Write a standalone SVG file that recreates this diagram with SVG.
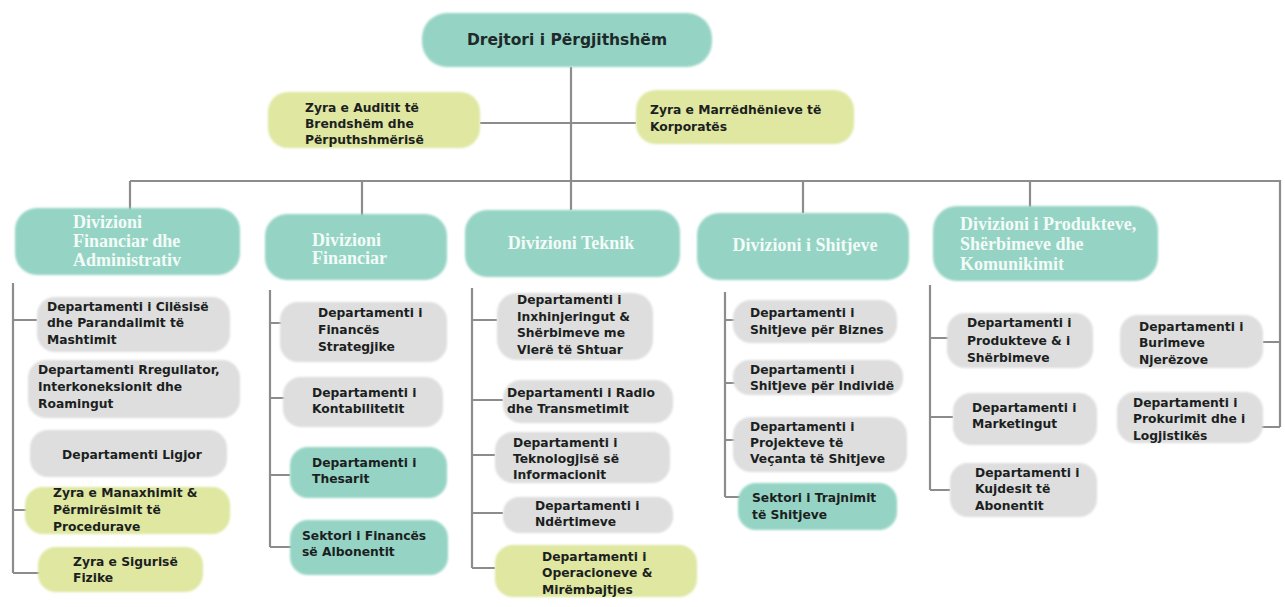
<svg xmlns="http://www.w3.org/2000/svg" width="1285" height="607" viewBox="0 0 1285 607">
<defs>
<filter id="soft" x="-10%" y="-20%" width="120%" height="140%"><feGaussianBlur stdDeviation="1.3"/></filter>
<style>
.teal{fill:#95d4c4;filter:url(#soft)}
.grey{fill:#dedede;filter:url(#soft)}
.yel{fill:#dfe7a0;filter:url(#soft)}
.t{font-family:"DejaVu Sans",Verdana,sans-serif;font-weight:bold;font-size:12.3px;fill:#1c1f1f}
.top{font-family:"DejaVu Sans",Verdana,sans-serif;font-weight:bold;font-size:15.5px;fill:#1e2a2a}
.div{font-family:"Liberation Serif","Times New Roman",serif;font-weight:bold;font-size:18px;fill:#f3fbf8}
.ln{stroke:#8c8c8c;stroke-width:2.2;fill:none}
</style>
</defs>
<rect width="1285" height="607" fill="#ffffff"/>

<g id="connectors" class="ln">
<path d="M571 67V181M480 123H636"/>
<path d="M130 181H1280V427"/>
<path d="M130 181V210M362 181V217M571 181V210M803 181V213M1030 181V207"/>
<path d="M13 283V573M13 320H37M13 510H30M13 573H40"/>
<path d="M270 290V547M270 323H282M270 398H285M270 475H290M270 547H292"/>
<path d="M472 288V568M472 320H497M472 400H503M472 455H495M472 513H503M472 568H495"/>
<path d="M725 292V497M725 320H735M725 383H735M725 440H735M725 497H740"/>
<path d="M930 285V490M930 338H948M930 417H953M930 490H950"/>
<path d="M1280 342H1263M1280 427H1250"/>
</g>

<g id="n-drejtori"><rect class="teal" x="422" y="13" width="290" height="54" rx="25"/><text class="top" x="567" y="45" text-anchor="middle">Drejtori i Përgjithshëm</text></g>

<g id="n-auditit"><rect class="yel" x="268" y="92" width="212" height="56" rx="20"/><text class="t" x="305"><tspan x="305" y="112">Zyra e Auditit të</tspan><tspan x="305" y="128">Brendshëm dhe</tspan><tspan x="305" y="144">Përputhshmërisë</tspan></text></g>

<g id="n-korporates"><rect class="yel" x="636" y="90" width="218" height="54" rx="20"/><text class="t"><tspan x="650" y="114">Zyra e Marrëdhënieve të</tspan><tspan x="650" y="131">Korporatës</tspan></text></g>

<g id="d-finadm"><rect class="teal" x="15" y="208" width="225" height="67" rx="22"/><text class="div"><tspan x="73" y="228">Divizioni</tspan><tspan x="73" y="247">Financiar dhe</tspan><tspan x="73" y="266">Administrativ</tspan></text></g>
<g id="d-fin"><rect class="teal" x="265" y="214" width="182" height="66" rx="22"/><text class="div"><tspan x="312" y="246">Divizioni</tspan><tspan x="312" y="264">Financiar</tspan></text></g>
<g id="d-teknik"><rect class="teal" x="465" y="210" width="215" height="67" rx="22"/><text class="div" x="571" y="249" text-anchor="middle">Divizioni Teknik</text></g>
<g id="d-shitjeve"><rect class="teal" x="697" y="213" width="212" height="67" rx="22"/><text class="div" x="805" y="251" text-anchor="middle">Divizioni i Shitjeve</text></g>
<g id="d-produkteve"><rect class="teal" x="933" y="206" width="225" height="75" rx="24"/><text class="div"><tspan x="960" y="230">Divizioni i Produkteve,</tspan><tspan x="960" y="250">Shërbimeve dhe</tspan><tspan x="960" y="270">Komunikimit</tspan></text></g>

<g id="c1-cilesise"><rect class="grey" x="37" y="297" width="193" height="55" rx="18"/><text class="t"><tspan x="47" y="311">Departamenti i Cilësisë</tspan><tspan x="47" y="327">dhe Parandalimit të</tspan><tspan x="47" y="344">Mashtimit</tspan></text></g>
<g id="c1-rregullator"><rect class="grey" x="28" y="360" width="212" height="58" rx="18"/><text class="t"><tspan x="38" y="374">Departamenti Rregullator,</tspan><tspan x="38" y="391">Interkoneksionit dhe</tspan><tspan x="38" y="408">Roamingut</tspan></text></g>
<g id="c1-ligjor"><rect class="grey" x="30" y="430" width="197" height="47" rx="18"/><text class="t" x="132" y="459" text-anchor="middle">Departamenti Ligjor</text></g>
<g id="c1-manaxhimit"><rect class="yel" x="25" y="487" width="205" height="47" rx="18"/><text class="t"><tspan x="53" y="497">Zyra e Manaxhimit &amp;</tspan><tspan x="53" y="514">Përmirësimit të</tspan><tspan x="53" y="531">Procedurave</tspan></text></g>
<g id="c1-sigurise"><rect class="yel" x="38" y="547" width="165" height="45" rx="18"/><text class="t"><tspan x="73" y="566">Zyra e Sigurisë</tspan><tspan x="73" y="582">Fizike</tspan></text></g>

<g id="c2-strategjike"><rect class="grey" x="280" y="302" width="167" height="60" rx="18"/><text class="t"><tspan x="318" y="317">Departamenti i</tspan><tspan x="318" y="334">Financës</tspan><tspan x="318" y="351">Strategjike</tspan></text></g>
<g id="c2-kontabilitetit"><rect class="grey" x="283" y="377" width="160" height="50" rx="18"/><text class="t"><tspan x="312" y="397">Departamenti i</tspan><tspan x="312" y="413">Kontabilitetit</tspan></text></g>
<g id="c2-thesarit"><rect class="teal" x="290" y="447" width="157" height="51" rx="18"/><text class="t"><tspan x="312" y="467">Departamenti i</tspan><tspan x="312" y="483">Thesarit</tspan></text></g>
<g id="c2-abonentit"><rect class="teal" x="290" y="520" width="158" height="55" rx="18"/><text class="t"><tspan x="302" y="540">Sektori i Financës</tspan><tspan x="302" y="556">së Albonentit</tspan></text></g>

<g id="c3-inxhinjeringut"><rect class="grey" x="497" y="293" width="156" height="67" rx="20"/><text class="t"><tspan x="517" y="304">Departamenti i</tspan><tspan x="517" y="321">Inxhinjeringut &amp;</tspan><tspan x="517" y="337">Shërbimeve me</tspan><tspan x="517" y="354">Vlerë të Shtuar</tspan></text></g>
<g id="c3-radio"><rect class="grey" x="503" y="380" width="170" height="43" rx="18"/><text class="t"><tspan x="507" y="397">Departamenti i Radio</tspan><tspan x="507" y="413">dhe Transmetimit</tspan></text></g>
<g id="c3-teknologjise"><rect class="grey" x="495" y="432" width="175" height="51" rx="18"/><text class="t"><tspan x="513" y="447">Departamenti i</tspan><tspan x="513" y="463">Teknologjisë së</tspan><tspan x="513" y="479">Informacionit</tspan></text></g>
<g id="c3-ndertimeve"><rect class="grey" x="503" y="497" width="170" height="36" rx="16"/><text class="t"><tspan x="535" y="510">Departamenti i</tspan><tspan x="535" y="526">Ndërtimeve</tspan></text></g>
<g id="c3-operacioneve"><rect class="yel" x="495" y="545" width="202" height="52" rx="18"/><text class="t"><tspan x="542" y="561">Departamenti i</tspan><tspan x="542" y="577">Operacioneve &amp;</tspan><tspan x="542" y="594">Mirëmbajtjes</tspan></text></g>

<g id="c4-biznes"><rect class="grey" x="733" y="300" width="164" height="43" rx="18"/><text class="t"><tspan x="750" y="317">Departamenti i</tspan><tspan x="750" y="334">Shitjeve për Biznes</tspan></text></g>
<g id="c4-individe"><rect class="grey" x="733" y="360" width="170" height="35" rx="16"/><text class="t"><tspan x="750" y="374">Departamenti i</tspan><tspan x="750" y="390">Shitjeve për Individë</tspan></text></g>
<g id="c4-projekteve"><rect class="grey" x="733" y="417" width="174" height="55" rx="18"/><text class="t"><tspan x="750" y="431">Departamenti i</tspan><tspan x="750" y="447">Projekteve të</tspan><tspan x="750" y="463">Veçanta të Shitjeve</tspan></text></g>
<g id="c4-trajnimit"><rect class="teal" x="738" y="483" width="159" height="47" rx="18"/><text class="t"><tspan x="752" y="502">Sektori i Trajnimit</tspan><tspan x="752" y="519">të Shitjeve</tspan></text></g>

<g id="c5-produkteve"><rect class="grey" x="947" y="313" width="146" height="55" rx="18"/><text class="t"><tspan x="967" y="327">Departamenti i</tspan><tspan x="967" y="345">Produkteve &amp; i</tspan><tspan x="967" y="362">Shërbimeve</tspan></text></g>
<g id="c5-marketingut"><rect class="grey" x="953" y="393" width="144" height="52" rx="18"/><text class="t"><tspan x="972" y="412">Departamenti i</tspan><tspan x="972" y="428">Marketingut</tspan></text></g>
<g id="c5-kujdesit"><rect class="grey" x="950" y="463" width="147" height="54" rx="18"/><text class="t"><tspan x="975" y="477">Departamenti i</tspan><tspan x="975" y="493">Kujdesit të</tspan><tspan x="975" y="510">Abonentit</tspan></text></g>

<g id="c6-burimeve"><rect class="grey" x="1120" y="315" width="143" height="53" rx="18"/><text class="t"><tspan x="1139" y="331">Departamenti i</tspan><tspan x="1139" y="347">Burimeve</tspan><tspan x="1139" y="364">Njerëzove</tspan></text></g>
<g id="c6-prokurimit"><rect class="grey" x="1117" y="392" width="146" height="51" rx="18"/><text class="t"><tspan x="1133" y="407">Departamenti i</tspan><tspan x="1133" y="423">Prokurimit dhe i</tspan><tspan x="1133" y="440">Logjistikës</tspan></text></g>
</svg>
